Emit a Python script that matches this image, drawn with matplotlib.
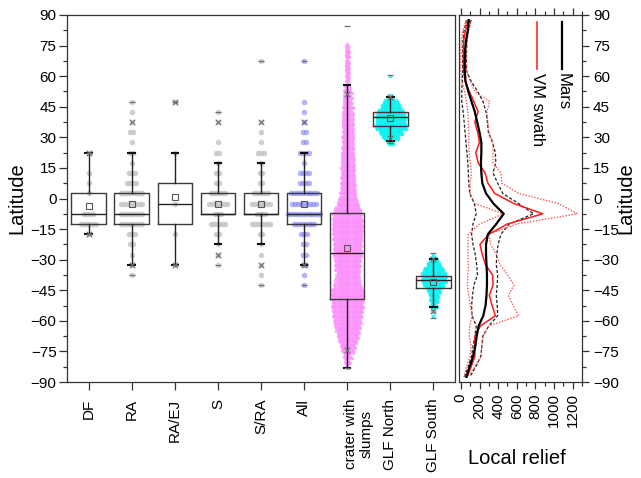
import numpy as np
import matplotlib
matplotlib.use("Agg")
import matplotlib.pyplot as plt
from matplotlib.ticker import MultipleLocator
from matplotlib.transforms import blended_transform_factory

plt.rcParams['font.family'] = ['Liberation Sans', 'DejaVu Sans']

# ---------------------------------------------------------------- box data
categories = ["DF", "RA", "RA/EJ", "S", "S/RA", "All",
              "crater with\nslumps", "GLF North", "GLF South"]
q1 = [-12.5, -12.5, -12.5, -7.5, -7.5, -12.5, -49.3, 35.4, -44.1]
median = [-7.5, -7.5, -2.5, -7.5, -7.5, -7.5, -26.9, 39.8, -40.0]
q3 = [2.5, 2.5, 7.5, 2.5, 2.5, 2.5, -7.3, 42.6, -37.8]
mean = [-3.7, -2.8, 0.9, -2.7, -2.6, -2.7, -24.4, 39.3, -40.8]
whisk_hi = [22.5, 22.5, 22.5, 17.5, 17.5, 22.5, 55.7, 49.6, -29.7]
whisk_lo = [-17.5, -32.5, -32.5, -22.5, -22.5, -32.5, -83.0, 28.0, -53.1]
pct99 = [22.5, 37.5, 47.5, 37.5, 37.5, 37.5, 51.1, 50.0, -29.7]
pct1 = [-17.5, -32.5, -32.5, -27.5, -32.5, -32.5, -74.3, 29.7, -55.2]
lat_max = [22.5, 47.5, 47.5, 42.5, 67.5, 67.5, 84.6, 60.6, -26.9]
lat_min = [-17.5, -37.5, -32.5, -32.5, -42.5, -42.5, -83.0, 27.0, -58.5]

# ------------------------------------------- feature counts per 5 deg bin
group_lat = [67.5, 62.5, 57.5, 52.5, 47.5, 42.5, 37.5, 32.5, 27.5, 22.5,
             17.5, 12.5, 7.5, 2.5, -2.5, -7.5, -12.5, -17.5, -22.5, -27.5,
             -32.5, -37.5, -42.5]
df_n = [0, 0, 0, 0, 0, 0, 0, 0, 0, 1, 0, 1, 1, 1, 0, 4, 6, 1, 0, 0, 0, 0, 0]
ra_n = [0, 0, 0, 0, 1, 1, 1, 2, 1, 2, 1, 3, 4, 8, 8, 8, 8, 3, 2, 1, 1, 1, 0]
raej_n = [0, 0, 0, 0, 1, 0, 0, 0, 0, 1, 0, 0, 0, 0, 1, 0, 0, 1, 0, 0, 1, 0, 0]
s_n = [0, 0, 0, 0, 0, 1, 1, 0, 1, 2, 1, 2, 2, 6, 7, 3, 6, 2, 1, 1, 1, 0, 0]
sra_n = [1, 0, 0, 0, 0, 0, 1, 1, 1, 3, 1, 2, 2, 6, 7, 4, 7, 2, 1, 1, 1, 1, 1]
all_n = [1, 0, 0, 0, 1, 1, 1, 2, 2, 4, 1, 4, 4, 10, 9, 12, 8, 3, 2, 2, 2, 1, 1]

# ------------------------------------ crater with slumps, 2.5 deg bins
slump_lat = [75, 72.5, 70, 67.5, 65, 62.5, 60, 57.5, 55, 52.5, 50, 47.5,
             45, 42.5, 40, 37.5, 35, 32.5, 30, 27.5, 25, 22.5, 20, 17.5,
             15, 12.5, 10, 7.5, 5, 2.5, 0, -2.5, -5, -7.5, -10, -12.5, -15,
             -17.5, -20, -22.5, -25, -27.5, -30, -32.5, -35, -37.5, -40,
             -42.5, -45, -47.5, -50, -52.5, -55, -57.5, -60, -62.5, -65,
             -67.5, -70, -72.5, -75, -77.5, -80, -82.5]
slump_n = [4, 6, 6, 5, 6, 6, 5, 4, 8, 11, 12, 12, 14, 14, 15, 15, 15, 15,
           16, 15, 16, 16, 18, 18, 19, 18, 19, 20, 20, 22, 25, 30, 35, 40,
           41, 41, 41, 40, 40, 38, 38, 38, 36, 35, 34, 32, 34, 38, 44, 46,
           45, 44, 42, 40, 38, 35, 32, 29, 25, 20, 16, 11, 8, 4]

# ------------------------------------------------ GLF, 2.5 deg bins
glfn_lat = [60, 50, 47.5, 45, 42.5, 40, 37.5, 35, 32.5, 30, 27.5]
glfn_n = [1, 5, 20, 27, 38, 42, 42, 45, 32, 22, 8]
glfs_lat = [-27.5, -30, -32.5, -35, -37.5, -40, -42.5, -45, -47.5, -50,
            -52.5, -55, -57.5]
glfs_n = [1, 10, 18, 28, 36, 35, 28, 18, 12, 10, 8, 4, 1]

# ------------------------------------------------ local relief profiles
relief_lat = [87.5, 82.5, 77.5, 72.5, 67.5, 62.5, 57.5, 52.5, 47.5, 42.5,
              37.5, 32.5, 27.5, 22.5, 17.5, 12.5, 7.5, 2.5, -2.5, -7.5,
              -12.5, -17.5, -22.5, -27.5, -32.5, -37.5, -42.5, -47.5, -52.5,
              -57.5, -62.5, -67.5, -72.5, -77.5, -82.5, -87.5]
mars_mid = [85, 75, 55, 45, 42, 42, 50, 80, 115, 150, 175, 200, 220, 220,
            215, 220, 230, 270, 350, 460, 380, 290, 270, 270, 275, 280, 280,
            275, 265, 240, 190, 170, 155, 130, 95, 60]
mars_lo = [60, 35, 22, 20, 20, 20, 15, 10, 10, 25, 35, 45, 55, 65, 75, 80,
           85, 95, 145, 165, 130, 115, 130, 155, 170, 178, 140, 125, 115,
           120, 165, 150, 130, 115, 80, 40]
mars_hi = [107, 80, 65, 60, 60, 62, 110, 180, 238, 270, 285, 295, 340, 370,
           375, 345, 395, 450, 620, 780, 520, 430, 400, 385, 380, 395, 390,
           380, 390, 395, 300, 235, 225, 213, 160, 96]
vm_mid = [78, 50, 30, 27, 27, 30, 45, 90, 140, 185, 150, 180, 200, 160, 185,
          260, 290, 363, 570, 878, 500, 300, 205, 230, 265, 340, 345, 305,
          335, 370, 210, 150, 150, 150, 110, 65]
vm_lo = [60, 20, 5, 0, 0, 0, 10, 40, 60, 75, 80, 85, 85, 90, 100, 115, 100,
         100, 150, 460, 200, 80, 75, 75, 80, 75, 70, 85, 100, 120, 95, 90,
         110, 100, 60, 30]
vm_hi = [115, 85, 65, 60, 60, 60, 100, 150, 310, 280, 290, 300, 345, 345,
         345, 430, 440, 620, 1050, 1250, 600, 300, 320, 380, 420, 500, 570,
         510, 560, 620, 300, 240, 225, 220, 150, 70]

# ---------------------------------------------------------------- styling
W, H = 641, 478
fig = plt.figure(figsize=(W / 100, H / 100), dpi=100)
ax = fig.add_axes([67 / W, 1 - 382 / H, (455 - 67) / W, (382 - 15) / H])
ax2 = fig.add_axes([459 / W, 1 - 382 / H, (582 - 459) / W, (382 - 15) / H])

spine_c = '#333333'
tick_fs = 11
positions = np.arange(1, len(categories) + 1)


def row_x(n, dx, shift=0.0):
    return (np.arange(n) - (n - 1) / 2.0) * dx + shift


def single_rows(pos, lats, counts, dx):
    xs, ys = [], []
    for lat, n in zip(lats, counts):
        if n:
            xs.extend(pos + row_x(n, dx))
            ys.extend([lat] * n)
    return np.array(xs), np.array(ys)


def dense_rows(pos, lats, counts, dx, dy):
    xs, ys = [], []
    offsets = [0.0, -dy, dy]
    for lat, n in zip(lats, counts):
        base, extra = divmod(n, 3)
        for i, off in enumerate(offsets):
            k = base + (1 if i < extra else 0)
            if k:
                shift = dx / 2 if i % 2 else 0.0
                xs.extend(pos + row_x(k, dx, shift))
                ys.extend([lat + off] * k)
    return np.array(xs), np.array(ys)


# swarms of individual features
gray_groups = [df_n, ra_n, raej_n, s_n, sra_n]
for pos, counts in zip(positions[:5], gray_groups):
    x, y = single_rows(pos, group_lat, counts, 0.068)
    ax.scatter(x, y, s=16, color='#c4c4c4', alpha=0.8, lw=0, zorder=2)
x, y = single_rows(positions[5], group_lat, all_n, 0.068)
ax.scatter(x, y, s=16, color='#8c8cf4', alpha=0.65, lw=0, zorder=2)

x, y = dense_rows(positions[6], slump_lat, slump_n, 0.05, 0.83)
ax.scatter(x, y, s=6, color='#fb92fb', alpha=0.8, lw=0, zorder=2)
x, y = dense_rows(positions[7], glfn_lat, glfn_n, 0.048, 0.83)
ax.scatter(x, y, s=7, color='#10f2f2', alpha=0.85, lw=0, zorder=2)
x, y = dense_rows(positions[8], glfs_lat, glfs_n, 0.048, 0.83)
ax.scatter(x, y, s=7, color='#10f2f2', alpha=0.85, lw=0, zorder=2)

# box plots from the summary statistics
stats = []
for i in range(len(categories)):
    stats.append(dict(med=median[i], q1=q1[i], q3=q3[i], whislo=whisk_lo[i],
                      whishi=whisk_hi[i], mean=mean[i], fliers=[]))
ax.bxp(stats, positions=positions, widths=0.8, capwidths=0.15,
       showmeans=True, manage_ticks=False,
       boxprops=dict(color='#3a3a3a', lw=1.0),
       medianprops=dict(color='#222222', lw=1.0),
       whiskerprops=dict(color='#222222', lw=1.0),
       capprops=dict(color='#111111', lw=1.5),
       meanprops=dict(marker='s', markersize=4.5, mfc='none', mec='#555555',
                      mew=0.8),
       zorder=3)
ax.scatter(positions, pct99, marker='x', s=16, color='#6e6e6e', lw=0.8, zorder=4)
ax.scatter(positions, pct1, marker='x', s=16, color='#6e6e6e', lw=0.8, zorder=4)
ax.scatter(positions, lat_max, marker='_', s=22, color='#6e6e6e', lw=0.9, zorder=4)
ax.scatter(positions, lat_min, marker='_', s=22, color='#6e6e6e', lw=0.9, zorder=4)

# main axes
ax.set_xlim(0.5, 9.5)
ax.set_ylim(-90, 90)
ax.yaxis.set_major_locator(MultipleLocator(15))
ax.yaxis.set_minor_locator(MultipleLocator(7.5))
ax.set_xticks(positions)
ax.set_xticklabels([c if '\n' not in c else '' for c in categories],
                   rotation=90, fontsize=tick_fs)
ax.tick_params(axis='x', direction='out', length=6, width=0.9, color=spine_c,
               pad=6)
ax.tick_params(axis='y', which='major', direction='out', length=5.5,
               width=0.9, color=spine_c, labelsize=tick_fs, pad=2)
ax.tick_params(axis='y', which='minor', direction='out', length=3,
               width=0.9, color=spine_c)
for sp in ax.spines.values():
    sp.set_color(spine_c)
    sp.set_linewidth(0.9)
slump_label = categories[6]
tr = blended_transform_factory(ax.transData, ax.transAxes)
ax.text(positions[6] + 0.27, -0.045, slump_label, transform=tr, rotation=90,
        ha='center', va='top', multialignment='center', fontsize=tick_fs)
fig.text(17 / W, 1 - 198 / H, 'Latitude', rotation=90, ha='center',
         va='center', fontsize=14.5)

# relief profiles
ax2.plot(mars_lo, relief_lat, color='#222222', lw=0.9, ls=(0, (2.5, 1.5)))
ax2.plot(mars_hi, relief_lat, color='#222222', lw=0.9, ls=(0, (2.5, 1.5)))
ax2.plot(vm_lo, relief_lat, color='#ff5050', lw=0.9, ls=(0, (1.2, 1.2)))
ax2.plot(vm_hi, relief_lat, color='#ff5050', lw=0.9, ls=(0, (1.2, 1.2)))
ax2.plot(vm_mid, relief_lat, color='#ff1a1a', lw=1.1)
ax2.plot(mars_mid, relief_lat, color='#000000', lw=1.6)

ax2.set_xlim(-20, 1300)
ax2.set_ylim(-90, 90)
ax2.xaxis.set_major_locator(MultipleLocator(200))
ax2.xaxis.set_minor_locator(MultipleLocator(100))
ax2.yaxis.set_major_locator(MultipleLocator(15))
ax2.yaxis.set_minor_locator(MultipleLocator(7.5))
ax2.yaxis.tick_right()
ax2.tick_params(axis='x', which='both', top=True, bottom=True,
                direction='out', color=spine_c, width=0.9)
ax2.tick_params(axis='x', which='major', length=5, labelsize=tick_fs,
                labelrotation=90, pad=3)
ax2.tick_params(axis='x', which='minor', length=3)
ax2.tick_params(axis='y', which='both', left=False, right=True,
                direction='out', color=spine_c, width=0.9)
ax2.tick_params(axis='y', which='major', length=5, labelsize=tick_fs, pad=3)
ax2.tick_params(axis='y', which='minor', length=3)
for sp in ax2.spines.values():
    sp.set_color(spine_c)
    sp.set_linewidth(0.9)
fig.text(517 / W, 1 - 458 / H, 'Local relief', ha='center', va='center',
         fontsize=14.5)
fig.text(626 / W, 1 - 198 / H, 'Latitude', rotation=90, ha='center',
         va='center', fontsize=14.5)

# legend drawn as vertical keys with rotated labels
legend_items = [("Mars", '#000000', 1.6, 0.837), ("VM swath", '#ff1a1a', 1.1, 0.632)]
for name, col, lw, xa in legend_items:
    ax2.plot([xa, xa], [0.981, 0.852], transform=ax2.transAxes, color=col,
             lw=lw, clip_on=False)
    ax2.text(xa + 0.01, 0.842, name, transform=ax2.transAxes, rotation=270,
             ha='center', va='top', fontsize=12)

fig.savefig('out.png', dpi=100)
